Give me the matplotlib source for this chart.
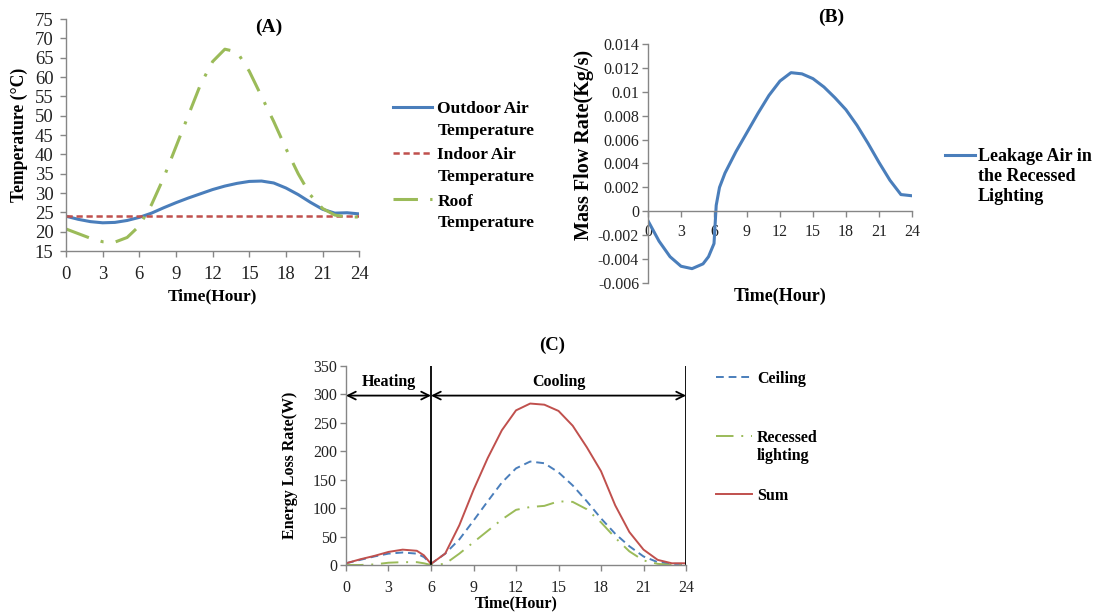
import matplotlib
matplotlib.use("Agg")
import matplotlib.pyplot as plt

plt.rcParams["font.family"] = "serif"
plt.rcParams["font.serif"] = ["Liberation Serif", "DejaVu Serif"]

# (A) temperatures over the day
hours_a = list(range(0, 25))
outdoor_t = [24.0, 23.2, 22.6, 22.3, 22.4, 22.9, 23.7, 24.8, 26.2, 27.5, 28.7, 29.8, 30.9,
             31.8, 32.5, 33.0, 33.1, 32.6, 31.3, 29.6, 27.6, 25.8, 24.8, 24.9, 24.6]
indoor_t = [24.0] * 25
roof_t = [20.7, 19.5, 18.3, 17.4, 17.3, 18.5, 21.5, 27.0, 34.0, 42.0, 50.0, 58.0, 64.0,
          67.2, 66.5, 61.5, 55.0, 48.5, 41.5, 35.0, 29.5, 26.0, 24.3, 23.8, 23.8]

# (B) leakage air mass flow through the recessed lighting
hours_b = [0, 1, 2, 3, 4, 5, 5.5, 6, 6.2, 6.5, 7, 8, 9, 10, 11, 12, 13, 14, 15, 16, 17,
           18, 19, 20, 21, 22, 23, 24]
leak_flow = [-0.0008, -0.0025, -0.0038, -0.0046, -0.0048, -0.0044, -0.0038, -0.0027,
             0.0005, 0.0020, 0.0032, 0.0050, 0.0066, 0.0082, 0.0097, 0.0109, 0.0116,
             0.0115, 0.0111, 0.0104, 0.0095, 0.0085, 0.0072, 0.0057, 0.0041, 0.0026,
             0.0014, 0.0013]
flow_ticks = [-0.006, -0.004, -0.002, 0, 0.002, 0.004, 0.006, 0.008, 0.01, 0.012, 0.014]
flow_tick_labels = ["-0.006", "-0.004", "-0.002", "0", "0.002", "0.004", "0.006",
                    "0.008", "0.01", "0.012", "0.014"]

# (C) energy loss rates
hours_c = [0, 1, 2, 3, 4, 5, 5.5, 6, 7, 8, 9, 10, 11, 12, 13, 14, 15, 16, 17, 18, 19,
           20, 21, 22, 23, 24]
ceiling_w = [3, 9, 15, 20, 22, 20, 14, 2, 20, 45, 78, 112, 145, 170, 182, 179, 163, 140,
             112, 82, 55, 33, 15, 5, 2, 2]
recessed_w = [0, 0, 1, 4, 5, 5, 3, 0, 2, 20, 40, 60, 80, 97, 102, 104, 112, 111, 98, 75,
              48, 24, 8, 2, 0, 0]
sum_w = [3, 10, 16, 23, 27, 25, 17, 2, 20, 70, 132, 188, 237, 272, 284, 282, 271, 245,
         207, 165, 105, 58, 27, 9, 3, 3]

blue = "#4a7ebb"
red = "#c0504d"
green = "#9bbb59"
axis_grey = "#868686"


def style_axes(ax, tick_size, xpad, ypad):
    for side in ("top", "right"):
        ax.spines[side].set_visible(False)
    for side in ("left", "bottom"):
        ax.spines[side].set_color(axis_grey)
        ax.spines[side].set_linewidth(1.0)
    ax.tick_params(colors=axis_grey, labelcolor="#222222", labelsize=tick_size,
                   length=4, width=1.0, direction="out")
    ax.tick_params(axis="x", pad=xpad)
    ax.tick_params(axis="y", pad=ypad)


def tidy_legend(leg, spacing, lift):
    # put each handle level with the first line of its label
    for txt in leg.get_texts():
        txt.set_linespacing(spacing)
    for h, txt in zip(leg.legend_handles, leg.get_texts()):
        n = txt.get_text().count("\n")
        h.set_ydata([y + lift * n for y in h.get_ydata()])


fig = plt.figure(figsize=(11.04, 6.16), dpi=100)

# ---- panel A ----
ax_a = fig.add_axes([0.0598, 0.5925, 0.2656, 0.3766])
ax_a.plot(hours_a, outdoor_t, color=blue, lw=2.2, label="Outdoor Air\nTemperature")
ax_a.plot(hours_a, indoor_t, color=red, lw=1.8, dashes=(2.5, 1.5),
          label="Indoor Air\nTemperature")
ax_a.plot(hours_a, roof_t, color=green, lw=2.2, dashes=(8, 4, 1, 4),
          label="Roof\nTemperature")
ax_a.set_xlim(0, 24)
ax_a.set_ylim(15, 75)
ax_a.set_xticks(range(0, 25, 3))
ax_a.set_yticks(range(15, 80, 5))
style_axes(ax_a, 13.5, 6.5, 5)
ax_a.set_xlabel("Time(Hour)", fontsize=12.5, fontweight="bold")
ax_a.xaxis.set_label_coords(0.5, -0.16)
ax_a.set_ylabel("Temperature (°C)", fontsize=12.7, fontweight="bold")
ax_a.yaxis.set_label_coords(-0.128, 0.5)
fig.text(0.243, 0.955, "(A)", fontsize=14, fontweight="bold", ha="center", va="center")
leg_a = ax_a.legend(loc="upper left", bbox_to_anchor=(0.356, 0.836),
                    bbox_transform=fig.transFigure, frameon=False,
                    prop={"weight": "bold", "size": 12.5}, borderpad=0, borderaxespad=0,
                    handlelength=2.25, handletextpad=0.3, labelspacing=0.5)
tidy_legend(leg_a, 1.47, 9.5)

# ---- panel B ----
ax_b = fig.add_axes([0.587, 0.5406, 0.239, 0.388])
ax_b.plot(hours_b, leak_flow, color=blue, lw=2.2,
          label="Leakage Air in\nthe Recessed\nLighting")
ax_b.set_xlim(0, 24)
ax_b.set_ylim(-0.006, 0.014)
ax_b.set_xticks(range(0, 25, 3))
ax_b.set_yticks(flow_ticks)
ax_b.set_yticklabels(flow_tick_labels)
style_axes(ax_b, 11.5, 5.5, 2.5)
ax_b.spines["bottom"].set_position(("data", 0))
ax_b.set_xlabel("Time(Hour)", fontsize=13, fontweight="bold")
ax_b.xaxis.set_label_coords(0.5, -0.02)
ax_b.set_ylabel("Mass Flow Rate(Kg/s)", fontsize=14.5, fontweight="bold")
ax_b.yaxis.set_label_coords(-0.205, 0.577)
fig.text(0.753, 0.972, "(B)", fontsize=14, fontweight="bold", ha="center", va="center")
leg_b = ax_b.legend(loc="upper left", bbox_to_anchor=(0.856, 0.759),
                    bbox_transform=fig.transFigure, frameon=False,
                    prop={"weight": "bold", "size": 13}, borderpad=0, borderaxespad=0,
                    handlelength=1.65, handletextpad=0.17)
tidy_legend(leg_b, 1.22, 8)

# ---- panel C ----
ax_c = fig.add_axes([0.3134, 0.0828, 0.308, 0.323])
ln_ceiling, = ax_c.plot(hours_c, ceiling_w, color=blue, lw=1.4, dashes=(4, 2.5))
ln_recessed, = ax_c.plot(hours_c, recessed_w, color=green, lw=1.4, dashes=(9, 4, 1, 4))
ln_sum, = ax_c.plot(hours_c, sum_w, color=red, lw=1.4)
ax_c.set_xlim(0, 24)
ax_c.set_ylim(0, 350)
ax_c.set_xticks(range(0, 25, 3))
ax_c.set_yticks(range(0, 351, 50))
style_axes(ax_c, 11.5, 6.5, 2.5)
ax_c.set_xlabel("Time(Hour)", fontsize=11.6, fontweight="bold")
ax_c.xaxis.set_label_coords(0.5, -0.155)
ax_c.set_ylabel("Energy Loss Rate(W)", fontsize=11.5, fontweight="bold")
ax_c.yaxis.set_label_coords(-0.142, 0.5)
fig.text(0.5, 0.44, "(C)", fontsize=13.5, fontweight="bold", ha="center", va="center")

# heating / cooling periods
ax_c.axvline(6, color="black", lw=1.3)
ax_c.axvline(24, color="black", lw=1.3)
arrow = dict(arrowstyle="<->", color="black", lw=1.3, shrinkA=0, shrinkB=0,
             mutation_scale=14)
ax_c.annotate("", xy=(0, 298), xytext=(6, 298), arrowprops=arrow)
ax_c.annotate("", xy=(6, 298), xytext=(24, 298), arrowprops=arrow)
ax_c.text(3, 322, "Heating", fontsize=11.5, fontweight="bold", ha="center", va="center")
ax_c.text(15, 322, "Cooling", fontsize=11.5, fontweight="bold", ha="center", va="center")

leg_c1 = ax_c.legend([ln_ceiling], ["Ceiling"], loc="upper left",
                     bbox_to_anchor=(0.6486, 0.398), bbox_transform=fig.transFigure,
                     frameon=False, prop={"weight": "bold", "size": 11.5},
                     borderpad=0, borderaxespad=0, handlelength=2.25, handletextpad=0.3)
ax_c.add_artist(leg_c1)
leg_c2 = ax_c.legend([ln_recessed, ln_sum], ["Recessed\nlighting", "Sum"],
                     loc="upper left", bbox_to_anchor=(0.6486, 0.302),
                     bbox_transform=fig.transFigure, frameon=False,
                     prop={"weight": "bold", "size": 11.5}, borderpad=0, borderaxespad=0,
                     handlelength=2.25, handletextpad=0.3, labelspacing=1.45)
tidy_legend(leg_c2, 1.2, 8)

fig.savefig("out.png", dpi=100)
